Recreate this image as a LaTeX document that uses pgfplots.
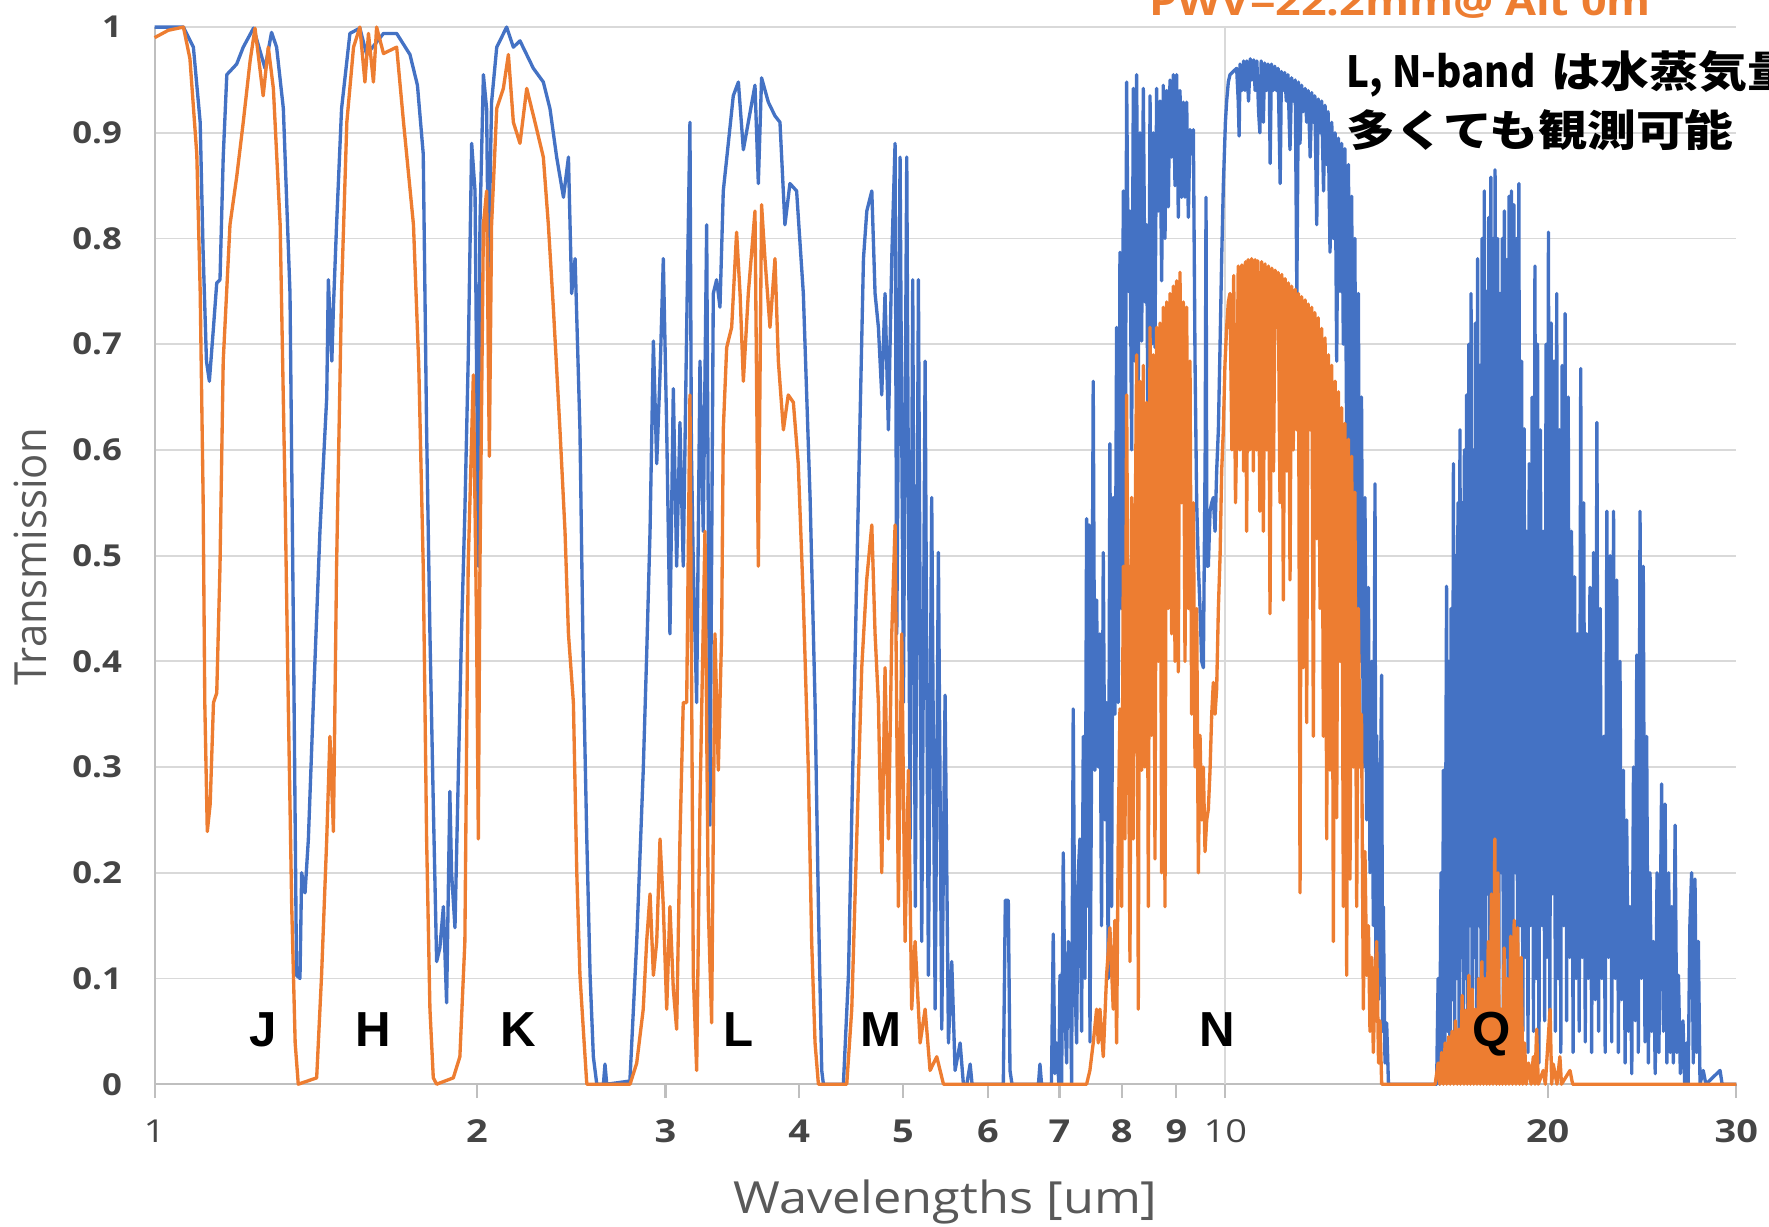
\documentclass[border=0pt]{standalone}
\usepackage{pgfplots}
\pgfplotsset{compat=1.18}
\usepackage{fontspec}
\usepackage{graphicx}
\setmainfont{Open Sans}
\newfontfamily\lib{Liberation Sans}
\newfontfamily\jp{Noto Sans CJK JP}
\definecolor{xblue}{HTML}{4472C4}
\definecolor{xorange}{HTML}{ED7D31}
\definecolor{gridc}{HTML}{D9D9D9}
\definecolor{axc}{HTML}{BFBFBF}
\definecolor{lab}{HTML}{595959}
\definecolor{tlab}{HTML}{454545}
\newcommand\tk[1]{\scalebox{1.15}[1]{\bfseries #1}}
\newcommand\tkx[1]{\scalebox{1.2}[1]{\bfseries #1}}
\newcommand\tr[1]{\scalebox{1.2}[1]{#1}}

\pgfplotstableread{
x y
1.000 1.000
1.064 1.000
1.087 0.981
1.103 0.910
1.110 0.787
1.118 0.684
1.125 0.665
1.135 0.716
1.143 0.758
1.151 0.761
1.159 0.877
1.168 0.955
1.193 0.965
1.210 0.981
1.237 0.999
1.268 0.961
1.286 0.995
1.300 0.981
1.319 0.923
1.338 0.748
1.348 0.426
1.357 0.103
1.367 0.100
1.372 0.200
1.382 0.181
1.392 0.232
1.407 0.361
1.427 0.523
1.448 0.650
1.453 0.761
1.464 0.684
1.469 0.735
1.479 0.813
1.495 0.923
1.522 0.994
1.555 0.999
1.578 0.974
1.636 0.994
1.683 0.994
1.732 0.974
1.760 0.945
1.782 0.880
1.795 0.619
1.808 0.426
1.821 0.265
1.834 0.116
1.847 0.129
1.861 0.168
1.874 0.077
1.887 0.277
1.894 0.200
1.908 0.148
1.922 0.297
1.935 0.426
1.949 0.542
1.963 0.684
1.978 0.890
1.992 0.845
2.006 0.490
2.013 0.813
2.028 0.955
2.042 0.923
2.050 0.768
2.064 0.929
2.087 0.981
2.132 1.000
2.163 0.981
2.194 0.987
2.258 0.961
2.307 0.948
2.340 0.923
2.374 0.877
2.409 0.839
2.435 0.877
2.452 0.748
2.470 0.781
2.496 0.619
2.514 0.394
2.533 0.232
2.551 0.103
2.569 0.026
2.588 0.000
2.625 0.000
2.634 0.019
2.644 0.000
2.779 0.003
2.820 0.135
2.860 0.297
2.881 0.406
2.902 0.523
2.923 0.703
2.944 0.587
2.965 0.671
2.986 0.781
3.008 0.619
3.029 0.426
3.051 0.658
3.073 0.490
3.095 0.626
3.117 0.490
3.140 0.716
3.162 0.910
3.172 0.600
3.185 0.490
3.208 0.361
3.231 0.684
3.254 0.523
3.278 0.813
3.301 0.245
3.325 0.748
3.349 0.761
3.373 0.735
3.397 0.845
3.434 0.890
3.471 0.935
3.509 0.948
3.547 0.884
3.585 0.910
3.637 0.945
3.663 0.852
3.689 0.952
3.743 0.929
3.797 0.916
3.838 0.910
3.879 0.813
3.921 0.852
3.978 0.845
4.035 0.748
4.094 0.555
4.138 0.361
4.168 0.168
4.198 0.013
4.213 0.000
4.398 0.000
4.446 0.103
4.494 0.329
4.542 0.555
4.592 0.781
4.625 0.826
4.675 0.845
4.708 0.748
4.742 0.716
4.776 0.652
4.810 0.748
4.845 0.619
4.880 0.781
4.915 0.890
4.933 0.426
4.968 0.877
5.004 0.361
5.040 0.877
5.076 0.232
5.105 0.761
5.134 0.168
5.168 0.761
5.205 0.135
5.243 0.684
5.280 0.103
5.318 0.555
5.357 0.071
5.395 0.503
5.434 0.052
5.473 0.368
5.513 0.039
5.552 0.116
5.592 0.013
5.653 0.039
5.693 0.000
5.735 0.000
5.776 0.019
5.800 0.000
6.203 0.000
6.230 0.174
6.270 0.174
6.293 0.013
6.320 0.000
6.690 0.000
6.712 0.019
6.735 0.000
6.880 0.000
6.907 0.142
6.930 0.010
6.957 0.039
6.990 0.000
7.007 0.103
7.032 0.000
7.057 0.219
7.083 0.071
7.108 0.020
7.134 0.135
7.159 0.129
7.185 0.000
7.210 0.355
7.236 0.100
7.262 0.039
7.288 0.200
7.315 0.232
7.341 0.050
7.367 0.329
7.394 0.100
7.420 0.535
7.447 0.168
7.460 0.529
7.474 0.040
7.500 0.300
7.527 0.665
7.554 0.297
7.582 0.458
7.609 0.300
7.636 0.426
7.663 0.150
7.691 0.503
7.718 0.250
7.746 0.361
7.774 0.100
7.802 0.606
7.830 0.168
7.858 0.555
7.886 0.350
7.915 0.716
7.943 0.361
7.972 0.787
8.000 0.450
8.029 0.845
8.058 0.490
8.087 0.948
8.116 0.750
8.145 0.826
8.174 0.600
8.204 0.942
8.233 0.684
8.263 0.955
8.292 0.665
8.322 0.900
8.352 0.703
8.382 0.942
8.412 0.740
8.443 0.813
8.473 0.550
8.504 0.935
8.534 0.700
8.565 0.900
8.595 0.697
8.626 0.942
8.657 0.826
8.688 0.930
8.719 0.760
8.750 0.945
8.782 0.800
8.814 0.940
8.845 0.830
8.877 0.950
8.909 0.877
8.941 0.955
8.973 0.850
9.005 0.955
9.037 0.820
9.070 0.940
9.102 0.839
9.135 0.929
9.168 0.839
9.201 0.929
9.234 0.820
9.267 0.903
9.300 0.880
9.334 0.903
9.368 0.684
9.401 0.550
9.435 0.490
9.469 0.450
9.503 0.400
9.537 0.394
9.575 0.600
9.592 0.839
9.610 0.490
9.640 0.490
9.675 0.542
9.710 0.550
9.744 0.555
9.780 0.523
9.814 0.580
9.850 0.619
9.886 0.700
9.920 0.781
9.956 0.850
10.000 0.910
10.027 0.930
10.063 0.948
10.099 0.955
10.170 0.958
10.245 0.961
10.28 0.930
10.30 0.897
10.32 0.965
10.36 0.940
10.40 0.968
10.43 0.940
10.47 0.968
10.51 0.930
10.55 0.970
10.59 0.950
10.63 0.969
10.66 0.940
10.70 0.968
10.74 0.920
10.77 0.900
10.80 0.968
10.83 0.940
10.85 0.910
10.88 0.966
10.92 0.940
10.96 0.965
10.99 0.950
11.01 0.871
11.04 0.965
11.08 0.940
11.12 0.963
11.16 0.940
11.20 0.961
11.25 0.852
11.28 0.958
11.32 0.940
11.36 0.957
11.40 0.930
11.44 0.955
11.49 0.884
11.53 0.952
11.57 0.930
11.62 0.950
11.66 0.748
11.70 0.948
11.74 0.890
11.78 0.945
11.82 0.920
11.87 0.942
11.91 0.910
11.95 0.940
12.00 0.877
12.04 0.938
12.08 0.910
12.12 0.935
12.17 0.813
12.21 0.932
12.26 0.900
12.30 0.930
12.35 0.845
12.39 0.926
12.43 0.870
12.47 0.920
12.523 0.787
12.570 0.910
12.613 0.800
12.660 0.900
12.704 0.684
12.750 0.895
12.795 0.750
12.840 0.890
12.887 0.700
12.930 0.885
12.980 0.600
13.030 0.870
13.073 0.550
13.120 0.840
13.167 0.500
13.210 0.800
13.262 0.450
13.310 0.748
13.357 0.400
13.400 0.650
13.453 0.300
13.500 0.555
13.550 0.250
13.600 0.470
13.647 0.200
13.700 0.400
13.745 0.150
13.795 0.568
13.820 0.100
13.844 0.330
13.900 0.080
13.944 0.250
13.994 0.387
14.020 0.050
14.044 0.168
14.095 0.020
14.145 0.058
14.200 0.000
15.750 0.000
15.80 0.10
15.85 0.00
15.90 0.20
15.95 0.02
15.98 0.297
16.03 0.03
16.09 0.471
16.13 0.05
16.17 0.40
16.21 0.02
16.25 0.45
16.29 0.08
16.33 0.587
16.37 0.03
16.41 0.50
16.45 0.10
16.49 0.55
16.53 0.02
16.56 0.619
16.60 0.12
16.64 0.55
16.68 0.04
16.72 0.60
16.76 0.10
16.80 0.652
16.84 0.03
16.88 0.70
16.92 0.15
16.96 0.748
17.00 0.05
17.04 0.60
17.08 0.12
17.12 0.72
17.16 0.04
17.20 0.781
17.25 0.15
17.29 0.68
17.33 0.05
17.37 0.80
17.41 0.10
17.45 0.845
17.50 0.03
17.54 0.75
17.58 0.18
17.62 0.82
17.66 0.05
17.70 0.858
17.75 0.12
17.79 0.80
17.83 0.04
17.86 0.865
17.91 0.15
17.96 0.80
18.00 0.06
18.05 0.748
18.10 0.20
18.14 0.80
18.18 0.05
18.22 0.826
18.27 0.12
18.32 0.78
18.37 0.03
18.41 0.84
18.45 0.10
18.50 0.845
18.55 0.05
18.60 0.832
18.65 0.20
18.70 0.80
18.75 0.04
18.80 0.852
18.85 0.15
18.91 0.684
18.96 0.05
19.01 0.62
19.06 0.12
19.12 0.523
19.17 0.03
19.22 0.587
19.28 0.15
19.34 0.65
19.40 0.05
19.46 0.774
19.52 0.10
19.57 0.70
19.63 0.02
19.69 0.619
19.75 0.15
19.81 0.523
19.87 0.06
19.93 0.70
19.98 0.12
20.03 0.806
20.09 0.04
20.15 0.72
20.21 0.18
20.27 0.684
20.33 0.05
20.39 0.748
20.45 0.10
20.51 0.619
20.57 0.03
20.63 0.68
20.70 0.15
20.76 0.729
20.83 0.06
20.90 0.65
20.97 0.12
21.05 0.523
21.12 0.03
21.19 0.48
21.26 0.10
21.33 0.426
21.40 0.05
21.47 0.677
21.54 0.12
21.61 0.55
21.68 0.04
21.75 0.426
21.82 0.10
21.90 0.47
21.98 0.03
22.07 0.503
22.15 0.08
22.23 0.626
22.31 0.05
22.39 0.45
22.47 0.10
22.55 0.329
22.63 0.03
22.71 0.542
22.79 0.12
22.87 0.50
22.95 0.04
23.04 0.542
23.12 0.10
23.20 0.477
23.28 0.03
23.36 0.40
23.45 0.08
23.53 0.297
23.62 0.02
23.70 0.25
23.79 0.05
23.87 0.168
23.96 0.01
24.05 0.30
24.14 0.06
24.22 0.406
24.30 0.03
24.39 0.542
24.47 0.10
24.56 0.49
24.65 0.04
24.74 0.329
24.83 0.02
24.92 0.20
25.01 0.05
25.10 0.135
25.20 0.01
25.30 0.20
25.40 0.03
25.55 0.284
25.65 0.05
25.74 0.265
25.84 0.02
25.94 0.20
26.03 0.03
26.11 0.168
26.20 0.02
26.30 0.245
26.40 0.03
26.49 0.103
26.60 0.01
26.75 0.06
26.85 0.00
26.96 0.039
27.05 0.00
27.15 0.15
27.25 0.200
27.35 0.02
27.45 0.194
27.55 0.03
27.65 0.135
27.75 0.00
27.94 0.013
28.10 0.00
28.97 0.013
29.10 0.00
30.00 0.00
}\blueT

\pgfplotstableread{
x y
1.000 0.990
1.030 0.997
1.064 1.000
1.079 0.970
1.095 0.880
1.103 0.750
1.110 0.555
1.114 0.361
1.120 0.239
1.127 0.265
1.135 0.361
1.143 0.370
1.151 0.490
1.159 0.684
1.176 0.813
1.193 0.858
1.210 0.910
1.228 0.968
1.241 0.999
1.263 0.935
1.277 0.981
1.291 0.942
1.310 0.813
1.324 0.555
1.333 0.361
1.343 0.168
1.353 0.039
1.362 0.000
1.417 0.006
1.432 0.103
1.448 0.232
1.458 0.329
1.469 0.239
1.479 0.490
1.495 0.750
1.512 0.910
1.534 0.981
1.555 1.000
1.572 0.948
1.584 0.994
1.601 0.948
1.612 1.000
1.636 0.975
1.683 0.981
1.708 0.910
1.745 0.813
1.765 0.680
1.782 0.490
1.795 0.232
1.808 0.071
1.821 0.006
1.834 0.000
1.901 0.006
1.928 0.026
1.949 0.135
1.963 0.490
1.985 0.671
1.999 0.426
2.006 0.232
2.013 0.490
2.028 0.813
2.042 0.845
2.054 0.594
2.064 0.813
2.087 0.923
2.117 0.942
2.140 0.974
2.163 0.910
2.194 0.890
2.226 0.942
2.266 0.910
2.307 0.877
2.332 0.813
2.357 0.735
2.391 0.619
2.417 0.523
2.435 0.426
2.461 0.361
2.479 0.200
2.496 0.103
2.514 0.052
2.533 0.000
2.780 0.000
2.820 0.020
2.860 0.071
2.881 0.135
2.902 0.180
2.923 0.103
2.944 0.135
2.965 0.232
2.986 0.168
3.008 0.071
3.029 0.168
3.051 0.090
3.073 0.052
3.095 0.232
3.117 0.361
3.140 0.361
3.162 0.652
3.185 0.103
3.208 0.013
3.231 0.265
3.266 0.523
3.289 0.168
3.313 0.058
3.337 0.426
3.361 0.297
3.385 0.426
3.397 0.619
3.422 0.697
3.459 0.716
3.496 0.806
3.522 0.748
3.547 0.665
3.585 0.748
3.637 0.826
3.663 0.490
3.689 0.832
3.716 0.781
3.756 0.716
3.797 0.781
3.824 0.684
3.866 0.619
3.907 0.652
3.950 0.645
3.992 0.587
4.035 0.458
4.079 0.297
4.108 0.135
4.138 0.039
4.168 0.000
4.430 0.000
4.478 0.071
4.526 0.232
4.575 0.394
4.624 0.477
4.675 0.529
4.708 0.426
4.742 0.361
4.776 0.200
4.810 0.394
4.845 0.232
4.880 0.426
4.915 0.529
4.950 0.168
4.986 0.426
5.022 0.135
5.058 0.297
5.094 0.071
5.131 0.135
5.187 0.039
5.243 0.071
5.299 0.013
5.376 0.026
5.454 0.000
7.420 0.000
7.473 0.013
7.527 0.039
7.582 0.071
7.609 0.039
7.636 0.071
7.691 0.026
7.746 0.103
7.802 0.148
7.858 0.071
7.886 0.155
7.915 0.039
7.943 0.232
7.972 0.355
8.000 0.168
8.029 0.490
8.058 0.232
8.087 0.652
8.116 0.361
8.145 0.116
8.174 0.555
8.204 0.232
8.233 0.500
8.263 0.690
8.292 0.071
8.322 0.665
8.352 0.297
8.382 0.680
8.412 0.300
8.443 0.645
8.473 0.168
8.504 0.716
8.534 0.330
8.565 0.690
8.595 0.213
8.626 0.716
8.657 0.400
8.688 0.720
8.719 0.200
8.750 0.735
8.782 0.168
8.814 0.740
8.845 0.450
8.877 0.748
8.909 0.426
8.941 0.755
8.973 0.400
9.005 0.760
9.037 0.390
9.070 0.768
9.102 0.550
9.135 0.740
9.168 0.400
9.201 0.735
9.234 0.450
9.267 0.684
9.300 0.350
9.335 0.550
9.368 0.300
9.401 0.450
9.435 0.200
9.469 0.330
9.503 0.250
9.537 0.300
9.571 0.220
9.606 0.250
9.640 0.260
9.675 0.297
9.710 0.350
9.744 0.380
9.780 0.350
9.814 0.374
9.850 0.450
9.886 0.500
9.920 0.580
9.956 0.619
9.990 0.680
10.027 0.716
10.063 0.740
10.099 0.748
10.14 0.600
10.18 0.765
10.22 0.550
10.245 0.619
10.28 0.774
10.32 0.600
10.36 0.775
10.40 0.580
10.44 0.778
10.468 0.523
10.50 0.780
10.54 0.600
10.58 0.781
10.62 0.580
10.66 0.780
10.69 0.600
10.72 0.779
10.77 0.542
10.81 0.778
10.851 0.523
10.89 0.776
10.93 0.600
10.97 0.774
11.007 0.445
11.05 0.772
11.09 0.580
11.13 0.770
11.166 0.716
11.20 0.768
11.246 0.550
11.29 0.766
11.327 0.458
11.37 0.762
11.41 0.580
11.45 0.758
11.491 0.477
11.53 0.755
11.57 0.600
11.62 0.752
11.657 0.619
11.70 0.748
11.741 0.181
11.78 0.745
11.825 0.394
11.87 0.742
11.910 0.342
11.95 0.738
11.996 0.619
12.04 0.735
12.082 0.329
12.12 0.730
12.169 0.516
12.21 0.725
12.257 0.450
12.30 0.715
12.345 0.329
12.39 0.706
12.434 0.232
12.48 0.690
12.523 0.297
12.57 0.680
12.613 0.135
12.66 0.665
12.704 0.252
12.75 0.655
12.795 0.400
12.84 0.640
12.887 0.168
12.93 0.625
12.980 0.103
13.03 0.610
13.073 0.194
13.12 0.594
13.167 0.300
13.21 0.560
13.262 0.168
13.31 0.450
13.357 0.300
13.40 0.350
13.453 0.071
13.50 0.220
13.550 0.103
13.60 0.150
13.647 0.050
13.70 0.120
13.745 0.030
13.80 0.100
13.844 0.135
13.90 0.020
13.944 0.060
13.994 0.000
15.70 0.000
15.80 0.020
15.86 0.000
15.92 0.030
15.98 0.000
16.04 0.039
16.10 0.000
16.16 0.045
16.22 0.000
16.28 0.050
16.34 0.000
16.40 0.060
16.46 0.000
16.52 0.052
16.58 0.000
16.64 0.084
16.70 0.000
16.76 0.070
16.82 0.000
16.88 0.103
16.94 0.000
17.00 0.090
17.06 0.000
17.12 0.071
17.18 0.000
17.24 0.100
17.30 0.000
17.36 0.116
17.42 0.000
17.48 0.100
17.54 0.000
17.60 0.135
17.66 0.000
17.72 0.180
17.78 0.000
17.85 0.232
17.91 0.000
17.97 0.200
18.03 0.000
18.09 0.071
18.15 0.000
18.21 0.129
18.27 0.000
18.33 0.100
18.40 0.000
18.47 0.140
18.54 0.000
18.61 0.155
18.68 0.000
18.75 0.148
18.82 0.000
18.89 0.120
18.96 0.000
19.03 0.039
19.10 0.000
19.20 0.020
19.30 0.000
19.39 0.026
19.46 0.000
19.53 0.052
19.60 0.000
19.81 0.013
19.90 0.000
20.10 0.071
20.17 0.000
20.24 0.019
20.40 0.000
20.53 0.026
20.60 0.000
20.98 0.013
21.10 0.000
30.00 0.000
}\orangeT

\begin{document}
\begin{tikzpicture}
\begin{axis}[
  at={(15.46mm,14.18mm)}, anchor=south west,
  scale only axis, width=158.17mm, height=105.71mm,
  xmode=log, xmin=1, xmax=30, ymin=0, ymax=1,
  clip=false,
  axis x line*=bottom, axis y line*=left,
  axis line style={draw=axc, line width=0.6pt, -},
  xtick={1,2,3,4,5,6,7,8,9,20,30},
  xticklabels={\tr{1},\tkx{2},\tkx{3},\tkx{4},\tkx{5},\tkx{6},\tkx{7},\tkx{8},\tkx{9},\tkx{20},\tkx{30}},
  extra x ticks={10},
  extra x tick labels={\tr{10}},
  extra x tick style={grid=major},
  xminorticks=false, yminorticks=false,
  ytick={0,0.1,0.2,0.3,0.4,0.5,0.6,0.7,0.8,0.9,1},
  yticklabels={\tk{0},\tk{0.1},\tk{0.2},\tk{0.3},\tk{0.4},\tk{0.5},\tk{0.6},\tk{0.7},\tk{0.8},\tk{0.9},\tk{1}},
  ymajorgrids,
  major grid style={draw=gridc, line width=0.55pt},
  tick align=outside, major tick length=1.4mm,
  xtick style={draw=axc, line width=0.6pt},
  ytick style={draw=none},
  xticklabel style={font=\fontsize{9}{11}\selectfont, text=tlab, inner sep=0pt, anchor=north, yshift=-2.1mm},
  yticklabel style={font=\fontsize{8.6}{10}\selectfont, text=tlab, inner sep=0pt, anchor=east, xshift=-1.8mm},
  xlabel={\scalebox{1.14}[1]{Wavelengths [um]}},
  xlabel style={at={(axis description cs:0.5,-0.1221)}, anchor=base, inner sep=0pt, font=\fontsize{12.6}{15}\selectfont, text=lab},
  ylabel={\scalebox{1}[1.06]{Transmission}},
  ylabel style={at={(axis description cs:-0.0682,0.499)}, anchor=base, inner sep=0pt, font=\fontsize{11.9}{14}\selectfont, text=lab},
  every axis plot/.append style={line join=round, line width=0.95pt, mark=none},
]
\addplot[xblue] table[x=x,y=y] {\blueT};
\addplot[xorange] table[x=x,y=y] {\orangeT};

\begin{scope}[every node/.style={font=\lib\bfseries\fontsize{14}{16}\selectfont, text=black, anchor=base, inner sep=0pt}]
\node at (axis cs:1.262,0.036) {J};
\node at (axis cs:1.601,0.036) {H};
\node at (axis cs:2.184,0.036) {K};
\node at (axis cs:3.513,0.036) {L};
\node at (axis cs:4.770,0.036) {M};
\node at (axis cs:9.827,0.036) {N};
\node at (axis cs:17.72,0.036) {Q};
\end{scope}
\end{axis}

\node[anchor=base, inner sep=0pt, text=xorange, font=\bfseries\fontsize{11.2}{13}\selectfont] at (140.0mm,121.0mm) {\scalebox{1.14}[1]{PWV=22.2mm@ Alt 0m}};
\node[anchor=base west, inner sep=0pt, font=\jp\bfseries\fontsize{12.2}{14}\selectfont] at (134.6mm,113.8mm) {\scalebox{0.9}[1]{L, N-band}\hspace{1.6mm}\scalebox{1.14}[1]{は水蒸気量}};
\node[anchor=base west, inner sep=0pt, font=\jp\bfseries\fontsize{12.2}{14}\selectfont] at (134.6mm,107.9mm) {\scalebox{1.14}[1]{多くても観測可能}};

\pgfresetboundingbox
\path[use as bounding box] (0,0) rectangle (176.9mm,122.6mm);
\end{tikzpicture}
\end{document}
